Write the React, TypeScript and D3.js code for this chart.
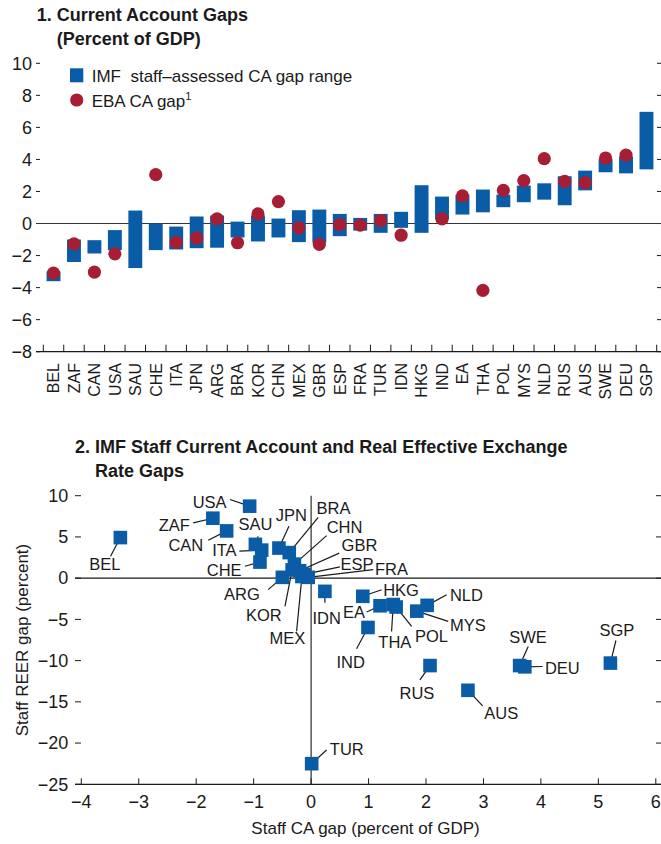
import React from "react";
import * as d3 from "d3";

// Panel 1: current account gaps (percent of GDP)
const caCountries = [
  "BEL", "ZAF", "CAN", "USA", "SAU", "CHE", "ITA", "JPN", "ARG", "BRA",
  "KOR", "CHN", "MEX", "GBR", "ESP", "FRA", "TUR", "IDN", "HKG", "IND",
  "EA", "THA", "POL", "MYS", "NLD", "RUS", "AUS", "SWE", "DEU", "SGP",
];
const gapLow = [
  -3.6, -2.4, -1.87, -1.66, -2.78, -1.66, -1.62, -1.54, -1.51, -0.87,
  -1.12, -0.87, -1.16, -1.2, -0.79, -0.44, -0.58, -0.27, -0.58, 0.25,
  0.56, 0.7, 1.02, 1.33, 1.49, 1.14, 2.07, 3.2, 3.13, 3.38,
];
const gapHigh = [
  -3.0, -1.0, -1.04, -0.41, 0.81, 0.0, -0.19, 0.44, 0.5, 0.12,
  0.5, 0.31, 0.83, 0.87, 0.6, 0.35, 0.6, 0.73, 2.39, 1.68,
  1.8, 2.12, 1.8, 2.37, 2.51, 2.95, 3.3, 4.02, 4.19, 6.97,
];
const ebaGap: (number | null)[] = [
  -3.1, -1.27, -3.03, -1.89, null, 3.05, -1.18, -0.91, 0.29, -1.2,
  0.6, 1.37, -0.27, -1.3, -0.06, -0.1, 0.19, -0.73, null, 0.29,
  1.72, -4.17, 2.07, 2.68, 4.05, 2.63, 2.55, 4.09, 4.27, null,
];
const caTicks = [-8, -6, -4, -2, 0, 2, 4, 6, 8, 10];

// Panel 2: staff CA gap vs staff REER gap
const scCountries = [
  "BEL", "ZAF", "CAN", "USA", "SAU", "ITA", "CHE", "JPN", "BRA", "CHN",
  "GBR", "ESP", "FRA", "ARG", "KOR", "MEX", "IDN", "HKG", "EA", "THA",
  "POL", "MYS", "NLD", "IND", "RUS", "AUS", "SWE", "DEU", "SGP", "TUR",
];
const scCaGap = [
  -3.32, -1.71, -1.47, -1.07, -0.97, -0.86, -0.89, -0.56, -0.38, -0.29,
  -0.2, -0.12, -0.05, -0.5, -0.33, -0.16, 0.24, 0.9, 1.2, 1.43,
  1.48, 1.84, 2.02, 0.99, 2.07, 2.73, 3.63, 3.72, 5.21, 0.01,
];
const scReerGap = [
  4.92, 7.27, 5.73, 8.73, 4.1, 3.4, 1.95, 3.65, 3.1, 1.7,
  0.9, 0.45, 0.1, 0.1, 1.0, 0.2, -1.6, -2.2, -3.35, -3.2,
  -3.5, -4.0, -3.3, -5.98, -10.6, -13.6, -10.6, -10.75, -10.3, -22.5,
];
const scXTicks = [-4, -3, -2, -1, 0, 1, 2, 3, 4, 5, 6];
const scYTicks = [-25, -20, -15, -10, -5, 0, 5, 10];

// label placement relative to the marker: text dx, dy, anchor, leader start dx, dy
const labelPos: Record<string, [number, number, string, number, number]> = {
  BEL: [-15.5, 32.7, "middle", -9.8, 18.7],
  ZAF: [-23, 13, "end", -19.7, 4.6],
  CAN: [-23.4, 20.4, "end", -18.4, 9.4],
  USA: [-23, 1.6, "end", -19.7, -6.7],
  SAU: [0.2, -14.1, "middle", 2.8, -8],
  ITA: [-25.1, 6.2, "end", -22.3, 1],
  CHE: [-18.4, 13.5, "end", -15.1, 4.2],
  JPN: [12.3, -26.8, "middle", 10, -21.8],
  BRA: [27.3, -38.5, "start", 28.9, -35.2],
  CHN: [32.2, -31.2, "start", 32.2, -28.5],
  GBR: [42, -19.3, "start", 39.6, -17.6],
  ESP: [36.4, -4.3, "start", 35.7, -7.6],
  FRA: [66.7, -2.7, "start", 65, -7.7],
  ARG: [-22.5, 22.3, "end", -14.2, 12.3],
  KOR: [-10.5, 51.4, "end", -7.2, 36.4],
  MEX: [-14.5, 67.1, "middle", -5.3, 54.8],
  IDN: [1.7, 32.3, "middle", 0, 11.3],
  HKG: [20.4, -0.6, "start", 18.8, -6.6],
  EA: [-15.1, 12.2, "end", -13.4, 6.2],
  THA: [1.6, 43.5, "middle", -1.7, 26.9],
  POL: [18.8, 35.4, "start", 15.5, 19.4],
  MYS: [33.1, 20.3, "start", 31.4, 10.3],
  NLD: [22.8, -4, "start", 19.5, -10.7],
  IND: [-17.3, 40.6, "middle", -11.4, 21.3],
  RUS: [-13.1, 33.6, "middle", -10.1, 14.3],
  AUS: [16.3, 28.6, "start", 14.7, 15.6],
  SWE: [8.3, -22.4, "middle", 8.6, -19],
  DEU: [20.1, 7, "start", 17.8, -0.3],
  SGP: [6.5, -27.3, "middle", 5.5, -22.6],
  TUR: [18.2, -8.7, "start", 14.9, -13.7],
};

const W = 661;
const H = 844;
const BLUE = "#0a5ca6";
const RED = "#a71e34";
const INK = "#1a1a1a";
const FONT = "'Liberation Sans', Arial, sans-serif";

const fmt = (d: number) => (d < 0 ? "\u2212" + Math.abs(d) : String(d));

function CurrentAccountPanel() {
  const x = d3.scaleBand<string>().domain(caCountries).range([43.3, 656.7]).paddingInner(0.32).paddingOuter(0.16);
  const y = d3.scaleLinear().domain([-8, 10]).range([351.7, 63.3]);
  const step = x.step();
  const x0 = 43.3;
  const boundaries = d3.range(caCountries.length + 1).map((i) => x0 + i * step);

  return (
    <g>
      <text x={36.7} y={20.7} fontWeight="bold" fontSize={18}>1. Current Account Gaps</text>
      <text x={56.7} y={44.5} fontWeight="bold" fontSize={18}>(Percent of GDP)</text>

      {caTicks.map((t) => (
        <g key={t}>
          <line x1={36} x2={40} y1={y(t)} y2={y(t)} stroke={INK} />
          <line x1={657} x2={661} y1={y(t)} y2={y(t)} stroke={INK} />
          <text x={32} y={y(t)} dy="0.35em" textAnchor="end" fontSize={18}>{fmt(t)}</text>
        </g>
      ))}

      <line x1={36} x2={661} y1={y(0)} y2={y(0)} stroke="#333" strokeWidth={1.2} />
      <line x1={36} x2={661} y1={y(-8)} y2={y(-8)} stroke={INK} strokeWidth={1.2} />
      {boundaries.map((b, i) => (
        <line key={i} x1={b} x2={b} y1={y(-8)} y2={y(-8) - 7} stroke={INK} />
      ))}

      {caCountries.map((c, i) => (
        <rect key={c} x={x(c)} width={x.bandwidth()} y={y(gapHigh[i])}
          height={y(gapLow[i]) - y(gapHigh[i])} fill={BLUE} />
      ))}
      {caCountries.map((c, i) =>
        ebaGap[i] === null ? null : (
          <circle key={c} cx={x(c)! + x.bandwidth() / 2} cy={y(ebaGap[i] as number)} r={6.6} fill={RED} />
        )
      )}

      {caCountries.map((c) => {
        const cx = x(c)! + x.bandwidth() / 2;
        return (
          <text key={c} transform={`translate(${cx},363) rotate(-90)`} dy="0.36em"
            textAnchor="end" fontSize={16}>{c}</text>
        );
      })}

      <rect x={70} y={68.3} width={13.3} height={14} fill={BLUE} />
      <text x={91.7} y={81.7} fontSize={17}>IMF{"\u00a0\u00a0"}staff–assessed CA gap range</text>
      <circle cx={76.7} cy={100} r={6.6} fill={RED} />
      <text x={91.7} y={106.5} fontSize={17}>
        EBA CA gap<tspan dy={-7} fontSize={11}>1</tspan>
      </text>
    </g>
  );
}

function ScatterPanel() {
  const x = d3.scaleLinear().domain([-4, 6]).range([81.3, 655.8]);
  const y = d3.scaleLinear().domain([-25, 10]).range([784.3, 495.7]);
  const s = 13.6;

  return (
    <g>
      <text x={75} y={453} fontWeight="bold" fontSize={18}>2. IMF Staff Current Account and Real Effective Exchange</text>
      <text x={95} y={477} fontWeight="bold" fontSize={18}>Rate Gaps</text>

      {scYTicks.map((t) => (
        <g key={t}>
          <line x1={75} x2={81} y1={y(t)} y2={y(t)} stroke={INK} />
          <line x1={656} x2={661} y1={y(t)} y2={y(t)} stroke={INK} />
          <text x={68.3} y={y(t)} dy="0.35em" textAnchor="end" fontSize={18}>{fmt(t)}</text>
        </g>
      ))}
      <line x1={75} x2={661} y1={y(-25)} y2={y(-25)} stroke={INK} strokeWidth={1.2} />
      {scXTicks.map((t) => (
        <g key={t}>
          <line x1={x(t)} x2={x(t)} y1={y(-25)} y2={y(-25) - 6} stroke={INK} />
          <text x={x(t)} y={808} textAnchor="middle" fontSize={18}>{fmt(t)}</text>
        </g>
      ))}
      <line x1={75} x2={661} y1={y(0)} y2={y(0)} stroke={INK} strokeWidth={1.1} />
      <line x1={x(0)} x2={x(0)} y1={y(10)} y2={y(-25)} stroke={INK} strokeWidth={1.1} />

      <text transform={`translate(28,${(y(10) + y(-25)) / 2}) rotate(-90)`} textAnchor="middle" fontSize={17}>
        Staff REER gap (percent)
      </text>
      <text x={(x(-4) + x(6)) / 2 - 3} y={834} textAnchor="middle" fontSize={17}>
        Staff CA gap (percent of GDP)
      </text>

      {scCountries.map((c, i) => {
        const px = x(scCaGap[i]);
        const py = y(scReerGap[i]);
        const p = labelPos[c];
        return <line key={c} x1={px + p[3]} y1={py + p[4]} x2={px} y2={py} stroke={INK} strokeWidth={1.2} />;
      })}
      {scCountries.map((c, i) => (
        <rect key={c} x={x(scCaGap[i]) - s / 2} y={y(scReerGap[i]) - s / 2} width={s} height={s} fill={BLUE} />
      ))}
      {scCountries.map((c, i) => {
        const p = labelPos[c];
        return (
          <text key={c} x={x(scCaGap[i]) + p[0]} y={y(scReerGap[i]) + p[1]}
            textAnchor={p[2] as any} fontSize={16.5}>{c}</text>
        );
      })}
    </g>
  );
}

export default function App() {
  return (
    <div style={{ position: "absolute", left: 0, top: 0 }}>
      <svg width={W} height={H} viewBox={`0 0 ${W} ${H}`} style={{ display: "block", background: "#fff" }}
        fontFamily={FONT} fill={INK}>
        <CurrentAccountPanel />
        <ScatterPanel />
      </svg>
    </div>
  );
}
